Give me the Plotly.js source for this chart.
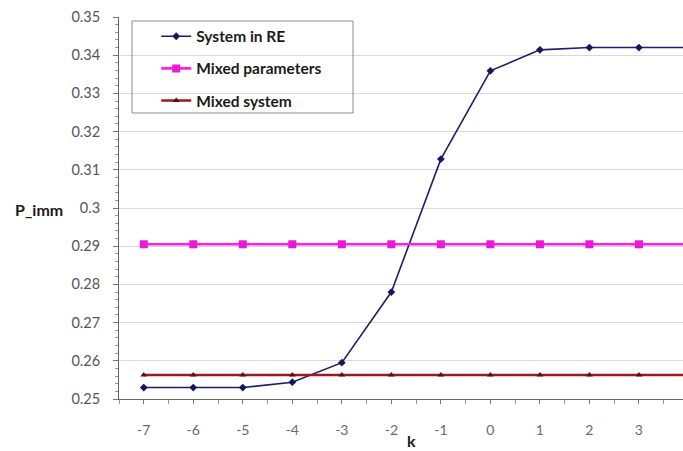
<!DOCTYPE html>
<html>
<head>
<meta charset="utf-8">
<script src="https://cdn.plot.ly/plotly-3.0.1.min.js"></script>
<style>html,body{margin:0;padding:0;background:#fff;}#chart{width:683px;height:451px;}</style>
</head>
<body>
<div id="chart"></div>
<script>
// Data
const k = [-7, -6, -5, -4, -3, -2, -1, 0, 1, 2, 3, 4];
const kLabels = ['-7', '-6', '-5', '-4', '-3', '-2', '-1', '0', '1', '2', '3', '4'];
const systemInRE = [0.2530, 0.2530, 0.2530, 0.2544, 0.2595, 0.2780, 0.3128, 0.3359, 0.3414, 0.3420, 0.3420, 0.3420];
const mixedParameters = [0.2905, 0.2905, 0.2905, 0.2905, 0.2905, 0.2905, 0.2905, 0.2905, 0.2905, 0.2905, 0.2905, 0.2905];
const mixedSystem = [0.2563, 0.2563, 0.2563, 0.2563, 0.2563, 0.2563, 0.2563, 0.2563, 0.2563, 0.2563, 0.2563, 0.2563];
const seriesNames = ['System in RE', 'Mixed parameters', 'Mixed system'];

const FONT = 'Lato, "Open Sans", sans-serif';

const traces = [
  {
    x: k, y: systemInRE, name: seriesNames[0], type: 'scatter', mode: 'lines+markers',
    line: {color: '#1c1f6e', width: 1.6},
    marker: {symbol: 'diamond', size: 6, color: '#15175e'},
    legendgroup: 'a'
  },
  {
    x: k, y: mixedParameters, name: seriesNames[1], type: 'scatter', mode: 'lines+markers',
    line: {color: '#ff1ee6', width: 2.6},
    marker: {symbol: 'square', size: 8, color: '#e81ad8'},
    legendgroup: 'b'
  },
  {
    x: k, y: mixedSystem, name: seriesNames[2], type: 'scatter', mode: 'lines+markers',
    line: {color: '#9a1a22', width: 2.6},
    marker: {symbol: 'triangle-up', size: 6, color: '#5a0f14'},
    legendgroup: 'c'
  }
];

const layout = {
  width: 683, height: 451,
  margin: {l: 119, r: 0, t: 17, b: 52, pad: 0},
  paper_bgcolor: '#ffffff', plot_bgcolor: '#ffffff',
  font: {family: FONT, size: 14, color: '#333'},
  showlegend: true,
  legend: {
    x: 0.066, y: 0.993, xanchor: 'left', yanchor: 'top',
    bgcolor: 'rgba(255,255,255,0)', borderwidth: 0,
    font: {family: FONT, size: 15.5, color: '#1a1a1a', weight: 'bold'},
    traceorder: 'grouped', tracegroupgap: 9
  },
  xaxis: {
    range: [-7.5, 3.89], autorange: false,
    tickvals: k, ticktext: kLabels,
    showgrid: false, zeroline: false,
    showline: true, linecolor: '#666', linewidth: 1,
    ticks: 'outside', ticklen: 4, tickcolor: '#777',
    minor: {dtick: 0.5, tick0: -7.5, ticks: 'outside', ticklen: 4, tickcolor: '#999', showgrid: false},
    tickfont: {family: FONT, size: 14, color: '#6a6a6a'},
    ticklabelstandoff: 14
  },
  yaxis: {
    range: [0.25, 0.35], autorange: false,
    dtick: 0.01, tick0: 0.25,
    showgrid: true, gridcolor: '#d9d9d9', gridwidth: 1,
    zeroline: false,
    showline: true, linecolor: '#666', linewidth: 1,
    ticks: 'outside', ticklen: 5, tickcolor: '#777',
    minor: {dtick: 0.002, ticks: 'outside', ticklen: 3, tickcolor: '#999', showgrid: false},
    tickfont: {family: FONT, size: 14.5, color: '#555'},
    ticklabelstandoff: 10
  },
  shapes: [
    {type: 'rect', xref: 'paper', yref: 'paper',
     x0: (132 - 119) / 564, x1: (353 - 119) / 564,
     y0: (399 - 113) / 382, y1: (399 - 21) / 382,
     line: {color: '#8a8a8a', width: 1}, fillcolor: 'rgba(0,0,0,0)', layer: 'above'}
  ],
  annotations: [
    {text: 'P_imm', xref: 'paper', yref: 'paper', x: (13 - 119) / 564, y: (399 - 210) / 382,
     xanchor: 'left', yanchor: 'middle', showarrow: false,
     font: {family: FONT, size: 16, color: '#1a1a1a', weight: 'bold'}},
    {text: 'k', xref: 'paper', yref: 'paper', x: (412 - 119) / 564, y: -(440 - 399) / 382,
     xanchor: 'center', yanchor: 'middle', showarrow: false,
     font: {family: FONT, size: 16, color: '#1a1a1a', weight: 'bold'}}
  ]
};

Plotly.newPlot('chart', traces, layout, {displayModeBar: false, staticPlot: true});
</script>
</body>
</html>
